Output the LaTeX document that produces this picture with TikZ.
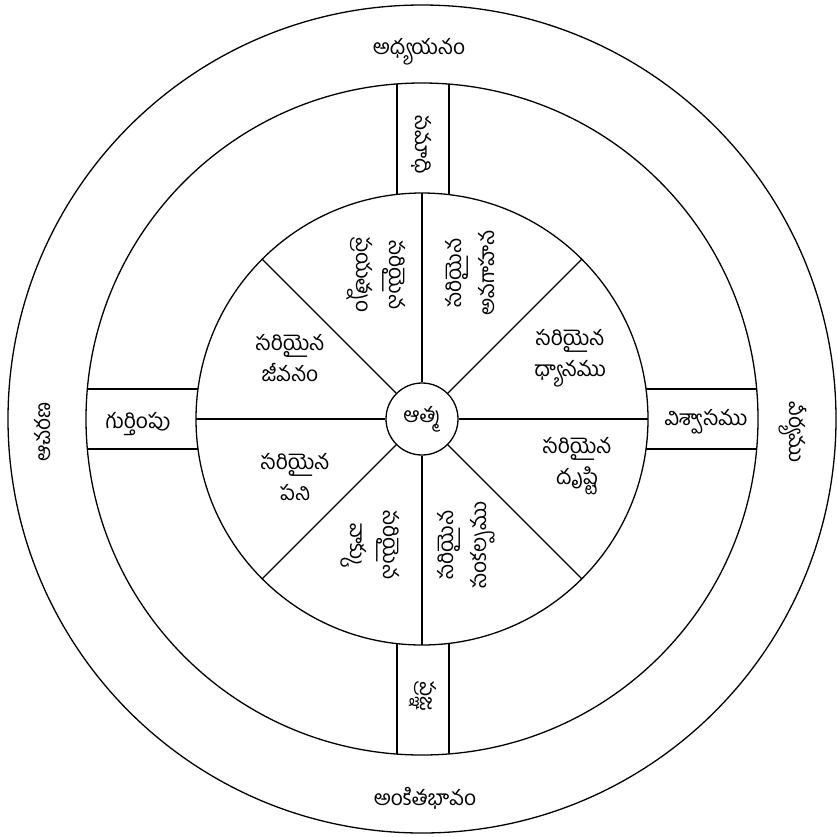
\documentclass[tikz,border=0pt]{standalone}
\usepackage{fontspec}
\newfontfamily\telugu[Script=Telugu]{Hind Guntur}
\usetikzlibrary{calc}

\tikzset{
  txt/.style={font=\telugu\fontsize{21}{31}\selectfont, align=center, inner sep=1pt},
  vtxt/.style={txt, font=\telugu\fontsize{21}{33}\selectfont},
}

\begin{document}
\begin{tikzpicture}[x=1pt,y=-1pt,line width=1.3pt]
  \useasboundingbox (0,0) rectangle (837,836);
  \coordinate (c) at (422,419);
  % three rings and the centre
  \draw (c) circle[radius=414pt];
  \draw (c) circle[radius=336pt];
  \draw (c) circle[radius=226pt];
  \node[circle,draw,minimum size=72pt,inner sep=0pt,txt] (atma) at (c) {ఆత్మ};
  \foreach \a in {0,45,...,315}{
    \coordinate (rim\a) at ($(c)+(\a:226pt)$);
    \draw (atma.\a) -- (rim\a);
  }
  % the four boxes between the inner and middle ring
  \begin{scope}[even odd rule]
    \clip (c) circle[radius=336pt] (c) circle[radius=226pt];
    \draw (397,0) -- (397,836) (449,0) -- (449,836);
    \draw (0,389) -- (837,389) (0,449) -- (837,449);
  \end{scope}
  % outer ring
  \node[txt] (top) at (419,52) {అధ్యయనం};
  \node[txt] (bottom) at (425,798) {అంకితభావం};
  \node[txt,rotate=90] (left) at (43,432) {ఆచరణ};
  \node[txt,rotate=-90] (right) at (793,432) {వీర్యము};
  % boxes
  \node[txt,rotate=-90] (boxtop) at (422,145) {సమాధి};
  \node[txt,rotate=-90] (boxbottom) at (423,696) {ప్రజ్ఞ};
  \node[txt] (boxleft) at (138,424) {గుర్తింపు};
  \node[txt] (boxright) at (706,422) {విశ్వాసము};
  % eight segments
  \node[txt] (ru) at (570,358) {సరియైన\\ధ్యానము};
  \node[txt] (rl) at (577,466) {సరియైన\\దృష్టి};
  \node[txt] (lu) at (290,358) {సరియైన\\జీవనం};
  \node[txt] (ll) at (295,477) {సరియైన\\పని};
  \node[vtxt,rotate=-90] (tl) at (376,275) {సరియైన\\ప్రయత్నం};
  \node[vtxt,rotate=90] (tr) at (470,273) {సరియైన\\అవగాహన};
  \node[vtxt,rotate=-90] (bl) at (370,545) {సరియైన\\వాక్కు};
  \node[vtxt,rotate=90] (br) at (466,545) {సరియైన\\సంకల్పము};
\end{tikzpicture}
\end{document}
